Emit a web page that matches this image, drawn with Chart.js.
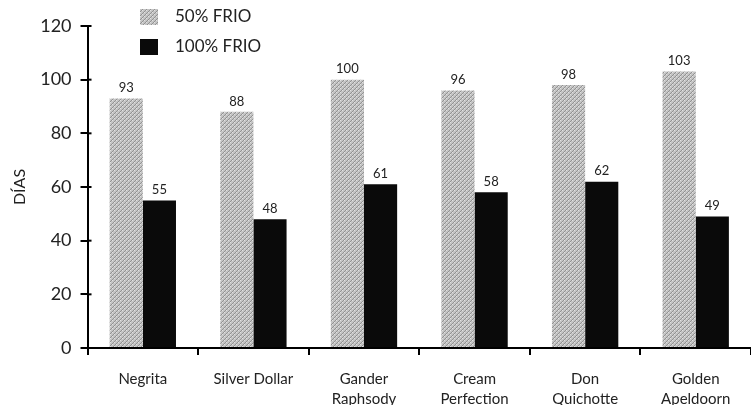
<!DOCTYPE html>
<html>
<head>
<meta charset="utf-8">
<script src="https://cdn.jsdelivr.net/npm/chart.js@4.4.1/dist/chart.umd.min.js"></script>
<style>
  html, body { margin: 0; padding: 0; background: #fff; }
  #wrap { width: 751px; height: 405px; }
</style>
</head>
<body>
<div id="wrap"><canvas id="c" width="751" height="405"></canvas></div>
<script>
// Días hasta floración por cultivar y tratamiento de frío
const categories = [["Negrita"], ["Silver Dollar"], ["Gander", "Raphsody"], ["Cream", "Perfection"], ["Don", "Quichotte"], ["Golden", "Apeldoorn"]];
const frio50 = [93, 88, 100, 96, 98, 103];
const frio100 = [55, 48, 61, 58, 62, 49];
const seriesNames = ["50% FRIO", "100% FRIO"];
const yTicks = [0, 20, 40, 60, 80, 100, 120];

const FONT = "Lato, 'Open Sans', sans-serif";

// Stippled grey hatch used for the 50% series
function makeHatch() {
  const p = document.createElement('canvas');
  p.width = 4; p.height = 4;
  const g = p.getContext('2d');
  g.fillStyle = '#c4c4c4';
  g.fillRect(0, 0, 4, 4);
  g.fillStyle = '#929292';
  // one-pixel diagonal stipple
  g.fillRect(3, 0, 1, 1);
  g.fillRect(2, 1, 1, 1);
  g.fillRect(1, 2, 1, 1);
  g.fillRect(0, 3, 1, 1);
  g.fillStyle = '#e2e2e2';
  g.fillRect(0, 0, 1, 1);
  g.fillRect(2, 2, 1, 1);
  return g.createPattern(p, 'repeat');
}
const ctx = document.getElementById('c').getContext('2d');
const hatch = makeHatch();

// Value labels above each bar
const valueLabels = {
  id: 'valueLabels',
  afterDatasetsDraw(chart) {
    const c = chart.ctx;
    c.save();
    c.font = '13px ' + FONT;
    c.fillStyle = '#222';
    c.textAlign = 'center';
    c.textBaseline = 'bottom';
    chart.data.datasets.forEach((ds, i) => {
      chart.getDatasetMeta(i).data.forEach((bar, j) => {
        c.fillText(String(ds.data[j]), bar.x, bar.y - 4);
      });
    });
    c.restore();
  }
};

// Short inward ticks on the value axis and the vertical legend
const decorations = {
  id: 'decorations',
  afterDraw(chart) {
    const c = chart.ctx;
    const y = chart.scales.y;
    const left = chart.chartArea.left;
    c.save();
    c.strokeStyle = '#000';
    c.lineWidth = 2;
    yTicks.forEach(v => {
      const py = y.getPixelForValue(v);
      c.beginPath();
      c.moveTo(left, py);
      c.lineTo(left + 4, py);
      c.stroke();
    });
    // legend
    const items = chart.data.datasets;
    c.font = '17px ' + FONT;
    c.textBaseline = 'middle';
    c.textAlign = 'left';
    items.forEach((ds, i) => {
      const ly = 17 + i * 30;
      c.fillStyle = ds.backgroundColor;
      c.fillRect(140, ly - 8, 18, 16);
      c.fillStyle = '#222';
      c.fillText(seriesNames[i], 175, ly);
    });
    c.restore();
  }
};

new Chart(ctx, {
  type: 'bar',
  data: {
    labels: categories,
    datasets: [
      { label: seriesNames[0], data: frio50, backgroundColor: hatch, borderWidth: 0,
        categoryPercentage: 0.6, barPercentage: 1.0 },
      { label: seriesNames[1], data: frio100, backgroundColor: '#0a0a0a', borderWidth: 0,
        categoryPercentage: 0.6, barPercentage: 1.0 }
    ]
  },
  options: {
    responsive: false,
    animation: false,
    layout: { padding: { top: 26, right: 0, bottom: 0, left: 10 } },
    plugins: {
      legend: { display: false },
      tooltip: { enabled: false }
    },
    scales: {
      x: {
        afterFit(axis) { axis.height = 57; },
        grid: { display: true, drawOnChartArea: false, color: '#000', lineWidth: 2, tickLength: 7, offset: true },
        border: { display: true, color: '#000', width: 2 },
        ticks: { color: '#222', font: { family: FONT, size: 15, lineHeight: 1.33 }, padding: 14, maxRotation: 0, autoSkip: false }
      },
      y: {
        min: 0, max: 120,
        afterBuildTicks(axis) { axis.ticks = yTicks.map(v => ({ value: v })); },
        grid: { display: true, drawOnChartArea: false, color: '#000', lineWidth: 2, tickLength: 7 },
        border: { display: true, color: '#000', width: 2 },
        ticks: { color: '#222', font: { family: FONT, size: 18 }, padding: 9 },
        title: { display: true, text: 'DÍAS', color: '#222', font: { family: FONT, size: 16 }, padding: { top: 0, bottom: 2 } }
      }
    }
  },
  plugins: [valueLabels, decorations]
});
</script>
</body>
</html>
